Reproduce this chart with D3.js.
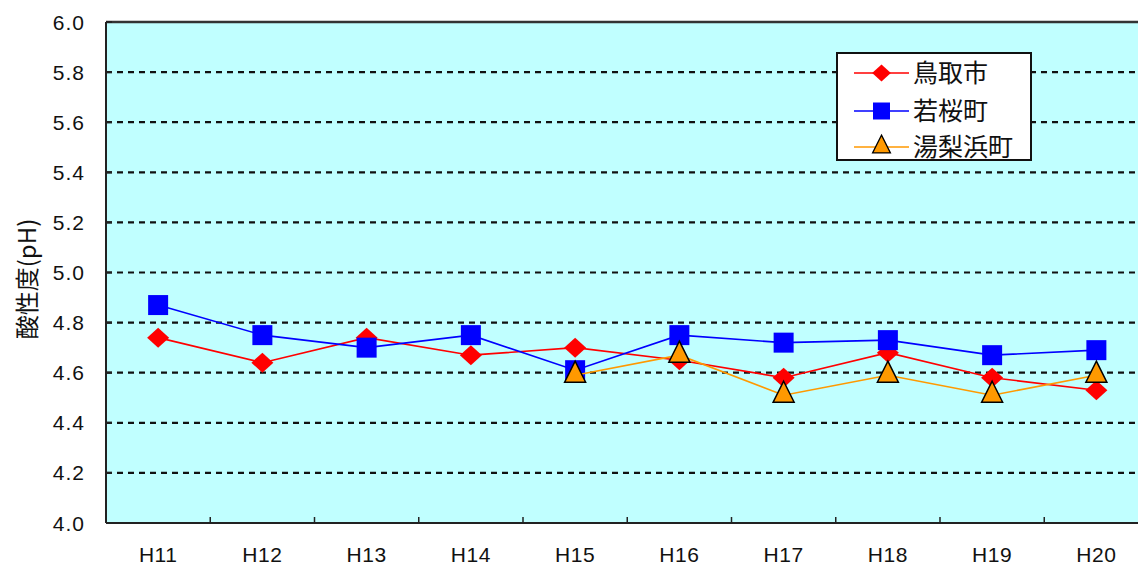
<!DOCTYPE html>
<html>
<head>
<meta charset="utf-8">
<script src="https://cdn.jsdelivr.net/npm/d3@7"></script>
<style>
  html, body { margin: 0; padding: 0; background: #ffffff; }
  svg { display: block; }
</style>
</head>
<body>
<svg id="chart" width="1138" height="571"></svg>
<script>
// ---- data ----
const categories = ["H11", "H12", "H13", "H14", "H15", "H16", "H17", "H18", "H19", "H20"];
const tottori   = [4.74, 4.64, 4.74, 4.67, 4.70, 4.65, 4.58, 4.68, 4.58, 4.53];
const wakasa    = [4.87, 4.75, 4.70, 4.75, 4.61, 4.75, 4.72, 4.73, 4.67, 4.69];
const yurihama  = [null, null, null, null, 4.59, 4.67, 4.51, 4.59, 4.51, 4.59];
const seriesNames = ["鳥取市", "若桜町", "湯梨浜町"];
const yTicks = [4.0, 4.2, 4.4, 4.6, 4.8, 5.0, 5.2, 5.4, 5.6, 5.8, 6.0];
const yLabel = "酸性度(pH)";

// ---- layout ----
const svg = d3.select("#chart");
const plot = { left: 106, top: 22, right: 1148.5, bottom: 523 };

const x = d3.scaleBand().domain(categories).range([plot.left, plot.right]).paddingInner(0).paddingOuter(0);
const y = d3.scaleLinear().domain([4.0, 6.0]).range([plot.bottom, plot.top]);
const cx = c => x(c) + x.bandwidth() / 2;

// plot background
svg.append("rect")
  .attr("x", plot.left).attr("y", plot.top)
  .attr("width", plot.right - plot.left).attr("height", plot.bottom - plot.top)
  .attr("fill", "#C0FFFF");

// gridlines
svg.append("g").selectAll("line")
  .data(yTicks.filter(t => t > 4.0 && t < 6.0))
  .join("line")
  .attr("x1", plot.left).attr("x2", plot.right)
  .attr("y1", d => y(d)).attr("y2", d => y(d))
  .attr("stroke", "#111")
  .attr("stroke-width", 2.2)
  .attr("stroke-dasharray", "6,5");

// frame: top border
svg.append("line")
  .attr("x1", plot.left).attr("x2", plot.right)
  .attr("y1", plot.top).attr("y2", plot.top)
  .attr("stroke", "#333").attr("stroke-width", 2.5);

// x axis (ticks inward at category boundaries)
const gx = svg.append("g").attr("transform", `translate(0,${plot.bottom})`);
gx.append("line")
  .attr("x1", plot.left).attr("x2", plot.right)
  .attr("y1", 0).attr("y2", 0)
  .attr("stroke", "#222").attr("stroke-width", 2);
gx.selectAll("line.tk")
  .data(categories.slice(1))
  .join("line").attr("class", "tk")
  .attr("x1", d => x(d)).attr("x2", d => x(d))
  .attr("y1", 0).attr("y2", -6)
  .attr("stroke", "#222").attr("stroke-width", 1.5);
gx.selectAll("text.lbl")
  .data(categories)
  .join("text").attr("class", "lbl")
  .attr("x", d => cx(d))
  .attr("y", 39)
  .attr("text-anchor", "middle")
  .attr("font-family", "'Liberation Sans', Arial, sans-serif")
  .attr("font-size", 21)
  .attr("letter-spacing", 0.5)
  .attr("fill", "#111")
  .text(d => d);

// y axis
const gy = svg.append("g");
gy.append("line")
  .attr("x1", plot.left).attr("x2", plot.left)
  .attr("y1", plot.top).attr("y2", plot.bottom)
  .attr("stroke", "#222").attr("stroke-width", 2);
gy.selectAll("line.tk")
  .data(yTicks)
  .join("line").attr("class", "tk")
  .attr("x1", plot.left).attr("x2", plot.left + 6)
  .attr("y1", d => y(d)).attr("y2", d => y(d))
  .attr("stroke", "#222").attr("stroke-width", 2);
gy.selectAll("text")
  .data(yTicks)
  .join("text")
  .attr("x", 85)
  .attr("y", d => y(d) + 7.5)
  .attr("text-anchor", "end")
  .attr("font-family", "'Liberation Sans', Arial, sans-serif")
  .attr("font-size", 21)
  .attr("letter-spacing", 1)
  .attr("fill", "#111")
  .text(d => d.toFixed(1));

// y axis title
svg.append("text")
  .attr("transform", "translate(36,279) rotate(-90)")
  .attr("text-anchor", "middle")
  .attr("font-family", "'Noto Sans CJK JP', sans-serif")
  .attr("font-size", 24)
  .attr("fill", "#111")
  .text(yLabel);

// ---- series ----
const diamond = "M0,-10L11,0L0,10L-11,0Z";
const square = "M-10,-10H10V10H-10Z";
const triangle = "M0,-14L10.5,7L-10.5,7Z";

const seriesDefs = [
  { name: seriesNames[0], values: tottori,  line: "#FF0000", fill: "#FF0000", stroke: "none", path: diamond },
  { name: seriesNames[1], values: wakasa,   line: "#0000FF", fill: "#0000FF", stroke: "none", path: square },
  { name: seriesNames[2], values: yurihama, line: "#FF9900", fill: "#FF9900", stroke: "#000", path: triangle }
];

const lineGen = d3.line()
  .defined(d => d.v != null)
  .x(d => cx(d.c))
  .y(d => y(d.v));

seriesDefs.forEach(s => {
  const pts = categories.map((c, i) => ({ c, v: s.values[i] }));
  const g = svg.append("g");
  g.append("path")
    .datum(pts)
    .attr("d", lineGen)
    .attr("fill", "none")
    .attr("stroke", s.line)
    .attr("stroke-width", 1.6);
  g.selectAll("path.mk")
    .data(pts.filter(d => d.v != null))
    .join("path").attr("class", "mk")
    .attr("d", s.path)
    .attr("transform", d => `translate(${cx(d.c)},${y(d.v)})`)
    .attr("fill", s.fill)
    .attr("stroke", s.stroke)
    .attr("stroke-width", s.stroke === "none" ? 0 : 1.5);
});

// ---- legend ----
const lg = svg.append("g");
lg.append("rect")
  .attr("x", 837).attr("y", 53)
  .attr("width", 194).attr("height", 107)
  .attr("fill", "#fff")
  .attr("stroke", "#111").attr("stroke-width", 2);
const rowY = [73, 111, 147];
seriesDefs.forEach((s, i) => {
  const ry = rowY[i];
  lg.append("line")
    .attr("x1", 854).attr("x2", 909)
    .attr("y1", ry).attr("y2", ry)
    .attr("stroke", s.line).attr("stroke-width", 1.6);
  lg.append("path")
    .attr("d", s.path)
    .attr("transform", `translate(881.5,${ry}) scale(0.85)`)
    .attr("fill", s.fill)
    .attr("stroke", s.stroke)
    .attr("stroke-width", s.stroke === "none" ? 0 : 1.5);
  lg.append("text")
    .attr("x", 913).attr("y", ry + 9)
    .attr("font-family", "'Noto Sans CJK JP', sans-serif")
    .attr("font-size", 25)
    .attr("fill", "#111")
    .text(s.name);
});
</script>
</body>
</html>
